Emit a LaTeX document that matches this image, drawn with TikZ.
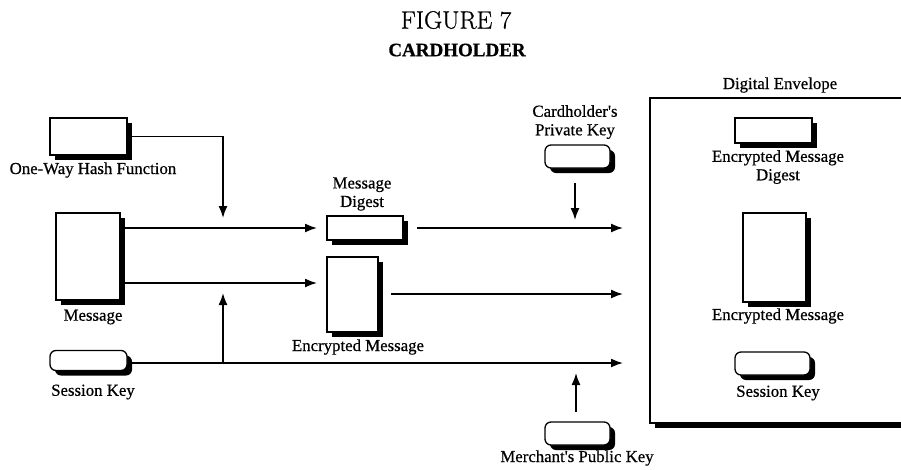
\documentclass[tikz,border=0pt]{standalone}
\usepackage{fontspec}
\newfontfamily\tms[FakeBold=0.6]{Liberation Serif}
\newfontfamily\lmtitle[FakeBold=0.8]{Latin Modern Roman}
\usetikzlibrary{arrows.meta,shadows,calc}
\begin{document}
\begin{tikzpicture}[x=1pt,y=-1pt,
  box/.style={draw, line width=1.3pt, fill=white, inner sep=0pt,
    drop shadow={shadow xshift=5pt, shadow yshift=-5pt, fill=black, opacity=1}},
  keybox/.style={box, rounded corners=6pt},
  lbl/.style={font=\tms\fontsize{16.8}{18.5}\selectfont, align=center, inner sep=0pt},
  arr/.style={line width=1.6pt, -{Latex[length=12pt,width=9pt]}}]
\useasboundingbox (0,0) rectangle (901,469);

% titles
\node (t1) at (456,20) {\lmtitle\fontsize{25}{28}\selectfont FIGURE 7};
\node (t2) at (457,50) {\tms\bfseries\fontsize{19}{21}\selectfont CARDHOLDER};

% left column: inputs
\node[box, minimum width=77pt, minimum height=37pt] (hash) at (88.5,136.5) {};
\node[lbl] (hashl) at (93,170) {One-Way Hash Function};
\node[box, minimum width=64pt, minimum height=87pt] (msg) at (88,256.5) {};
\node[lbl] (msgl) at (93,317) {Message};
\node[keybox, minimum width=77pt, minimum height=20pt] (sk) at (88.5,360.5) {};
\node[lbl] (skl) at (93,392) {Session Key};

% middle column: results
\node[box, minimum width=76pt, minimum height=24pt] (md) at (365,228) {};
\node[lbl] (mdl) at (362,194) {Message\\Digest};
\node[box, minimum width=51pt, minimum height=75pt] (em) at (352.5,294.5) {};
\node[lbl] (eml) at (358,347) {Encrypted Message};

% keys
\node[keybox, minimum width=65pt, minimum height=23pt] (cpk) at (577.5,156.5) {};
\node[lbl] (cpkl) at (575,122) {Cardholder's\\Private Key};
\node[keybox, minimum width=65pt, minimum height=23pt] (mpk) at (577.5,433.5) {};
\node[lbl] (mpkl) at (577,458) {Merchant's Public Key};

% digital envelope
\node[box, line width=1.4pt, minimum width=255pt, minimum height=325pt] (env) at (777.5,260.5) {};
\node[lbl] (envl) at (780,85) {Digital Envelope};
\node[box, minimum width=77pt, minimum height=25pt] (emd) at (773.5,130.5) {};
\node[lbl] (emdl) at (778,167) {Encrypted Message\\Digest};
\node[box, minimum width=63pt, minimum height=89pt] (eem) at (774.5,257.5) {};
\node[lbl] (eeml) at (778,316) {Encrypted Message};
\node[keybox, minimum width=75pt, minimum height=23pt] (esk) at (772.5,363.5) {};
\node[lbl] (eskl) at (778,393) {Session Key};

% arrow end points
\coordinate (hashtip) at (223,218);
\coordinate (mdtip) at (317,228);
\coordinate (emtip) at (317,283);
\coordinate (sktip) at (223,293);
\coordinate (skstart) at (132,363);
\coordinate (mdstart) at (417,228);
\coordinate (emstart) at (391,294);
\coordinate (mdend) at (623,228);
\coordinate (emend) at (623,294);
\coordinate (skend) at (623,363);
\coordinate (cpkfrom) at (575,183);
\coordinate (cpktip) at (575,220);
\coordinate (mpkfrom) at (576,412);
\coordinate (mpktip) at (576,373);

% connectors
\draw[arr] (hash.east) -| (hashtip);
\draw[arr] (msg.east |- mdtip) -- (mdtip);
\draw[arr] (msg.east |- emtip) -- (emtip);
\draw[arr] (skstart) -- (skend);
\draw[arr] (sktip |- skend) -- (sktip);
\draw[arr] (mdstart) -- (mdend);
\draw[arr] (emstart) -- (emend);
\draw[arr] (cpkfrom) -- (cpktip);
\draw[arr] (mpkfrom) -- (mpktip);
\end{tikzpicture}
\end{document}
